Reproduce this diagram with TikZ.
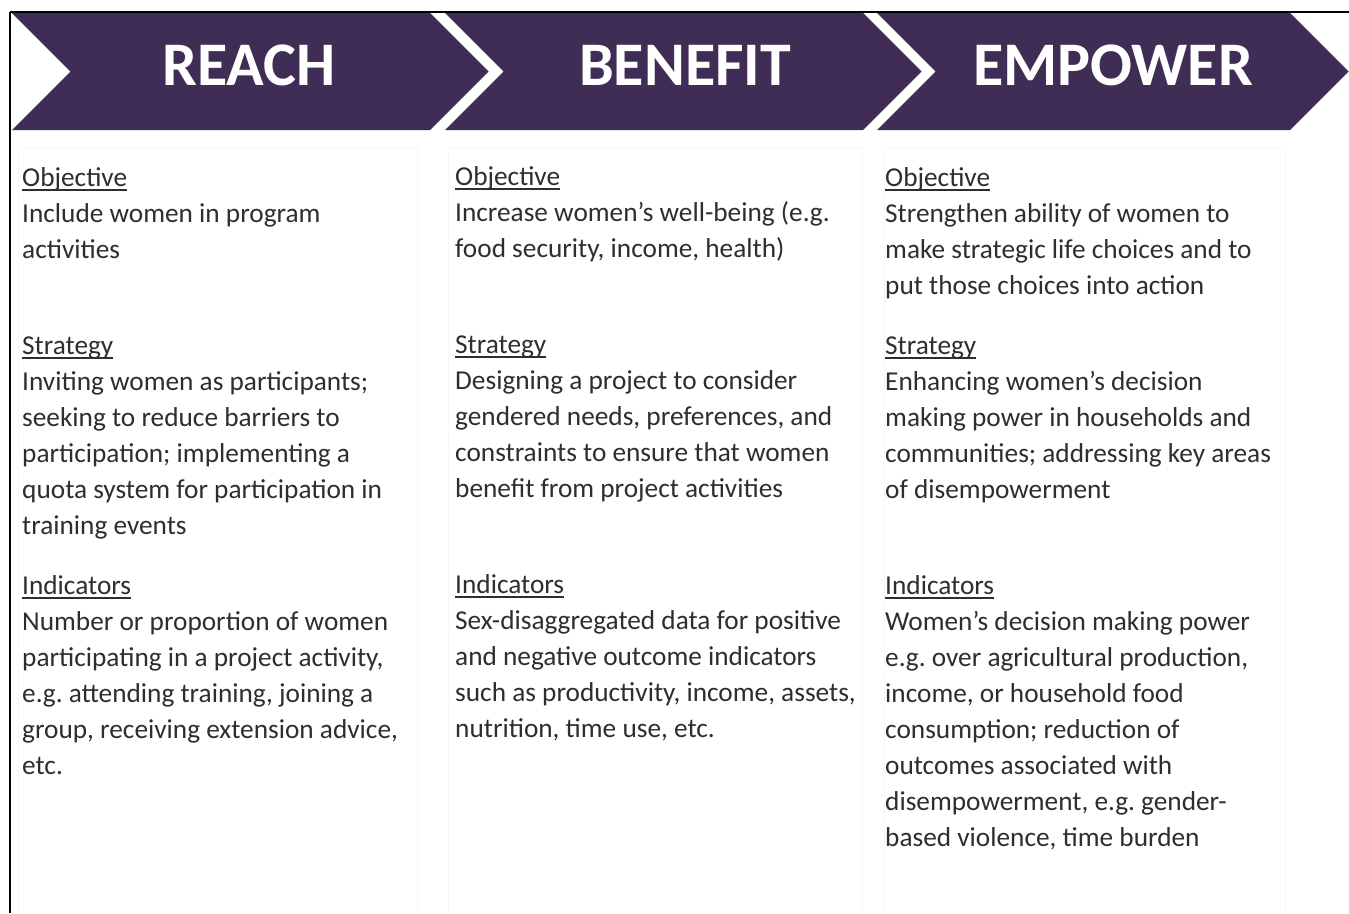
\documentclass[tikz,border=0pt]{standalone}
\usepackage{fontspec}
\setmainfont{Carlito}
\frenchspacing
\definecolor{banner}{HTML}{3F2D55}
\definecolor{bodytxt}{HTML}{2E2E2E}
\definecolor{colline}{HTML}{F7F7F7}
\newcommand\hdul[1]{\leavevmode\setbox0\hbox{#1}\rlap{\rule[-4.5pt]{\wd0}{1.8pt}}\box0}
\tikzset{
  banner title/.style={font=\fontsize{62}{70}\selectfont\bfseries, text=white, inner sep=0pt},
  section text/.style={anchor=base west, inner sep=0pt, text=bodytxt,
     font=\fontsize{27.3}{36}\selectfont\frenchspacing},
  colbox/.style={draw=colline, line width=1pt},
}
\begin{document}
\begin{tikzpicture}[x=1pt,y=-1pt]
\useasboundingbox (0,0) rectangle (1349,913);
\fill[white] (0,0) rectangle (1349,913);
% frame lines
\draw[black, line width=2pt] (10,12) -- (1349,12);
\draw[black, line width=2pt] (10,12) -- (10,913);
% faint column boxes
\draw[colbox] (18,147) rectangle (417,920);
\draw[colbox] (448,147) rectangle (862,920);
\draw[colbox] (884,147) rectangle (1285,920);
% chevrons
\fill[banner] (12,13) -- (430,13) -- (488.5,71.5) -- (430,130) -- (12,130) -- (70.5,71.5) -- cycle;
\fill[banner] (445,13) -- (863,13) -- (921.5,71.5) -- (863,130) -- (445,130) -- (503.5,71.5) -- cycle;
\fill[banner] (877,13) -- (1290,13) -- (1348.5,71.5) -- (1290,130) -- (877,130) -- (935.5,71.5) -- cycle;
\node[banner title] (reach) at (249,65) {REACH};
\node[banner title] (benefit) at (685,65) {BENEFIT};
\node[banner title] (empower) at (1113,65) {EMPOWER};
% column 1
\node[section text] (obj1) at (22,186) {\begin{tabular}[t]{@{}l@{}}\hdul{Objective}\\Include women in program\\activities\end{tabular}};
\node[section text] (str1) at (22,354) {\begin{tabular}[t]{@{}l@{}}\hdul{Strategy}\\Inviting women as participants;\\seeking to reduce barriers to\\participation; implementing a\\quota system for participation in\\training events\end{tabular}};
\node[section text] (ind1) at (22,594) {\begin{tabular}[t]{@{}l@{}}\hdul{Indicators}\\Number or proportion of women\\participating in a project activity,\\e.g. attending training, joining a\\group, receiving extension advice,\\etc.\end{tabular}};
% column 2
\node[section text] (obj2) at (455,185) {\begin{tabular}[t]{@{}l@{}}\hdul{Objective}\\Increase women’s well-being (e.g.\\food security, income, health)\end{tabular}};
\node[section text] (str2) at (455,353) {\begin{tabular}[t]{@{}l@{}}\hdul{Strategy}\\Designing a project to consider\\gendered needs, preferences, and\\constraints to ensure that women\\benefit from project activities\end{tabular}};
\node[section text] (ind2) at (455,593) {\begin{tabular}[t]{@{}l@{}}\hdul{Indicators}\\Sex-disaggregated data for positive\\and negative outcome indicators\\such as productivity, income, assets,\\nutrition, time use, etc.\end{tabular}};
% column 3
\node[section text] (obj3) at (885,186) {\begin{tabular}[t]{@{}l@{}}\hdul{Objective}\\Strengthen ability of women to\\make strategic life choices and to\\put those choices into action\end{tabular}};
\node[section text] (str3) at (885,354) {\begin{tabular}[t]{@{}l@{}}\hdul{Strategy}\\Enhancing women’s decision\\making power in households and\\communities; addressing key areas\\of disempowerment\end{tabular}};
\node[section text] (ind3) at (885,594) {\begin{tabular}[t]{@{}l@{}}\hdul{Indicators}\\Women’s decision making power\\e.g. over agricultural production,\\income, or household food\\consumption; reduction of\\outcomes associated with\\disempowerment, e.g. gender-\\based violence, time burden\end{tabular}};
\end{tikzpicture}
\end{document}
